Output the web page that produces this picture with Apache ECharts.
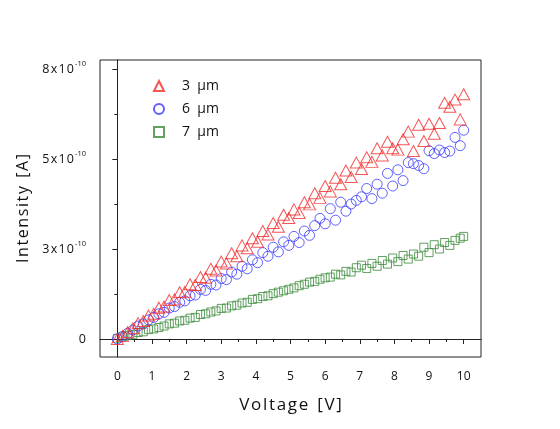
<!DOCTYPE html>
<html>
<head>
<meta charset="utf-8">
<script src="https://cdn.jsdelivr.net/npm/echarts@6/dist/echarts.min.js"></script>
<style>html,body{margin:0;padding:0;background:#fff}#c{width:560px;height:429px}</style>
</head>
<body>
<div id="c"></div>
<script>
// Voltage [V]
const VOLTAGE = [0, 0.15, 0.3, 0.45, 0.6, 0.75, 0.9, 1.05, 1.2, 1.35, 1.5, 1.65, 1.8, 1.95, 2.1, 2.25, 2.4, 2.55, 2.7, 2.85,
  3.0, 3.15, 3.3, 3.45, 3.6, 3.75, 3.9, 4.05, 4.2, 4.35, 4.5, 4.65, 4.8, 4.95, 5.1, 5.25, 5.4, 5.55, 5.7, 5.85,
  6.0, 6.15, 6.3, 6.45, 6.6, 6.75, 6.9, 7.05, 7.2, 7.35, 7.5, 7.65, 7.8, 7.95, 8.1, 8.25, 8.4, 8.55, 8.7, 8.85,
  9.0, 9.15, 9.3, 9.45, 9.6, 9.75, 9.9, 10.0];
// Intensity in units of 1e-10 A
const I_3UM = [0.00, 0.08, 0.19, 0.30, 0.44, 0.50, 0.65, 0.70, 0.87, 0.90, 1.08, 1.10, 1.30, 1.31, 1.52, 1.50, 1.72, 1.70, 1.95, 1.90,
  2.15, 2.10, 2.38, 2.30, 2.60, 2.52, 2.80, 2.70, 3.00, 2.90, 3.22, 3.12, 3.45, 3.36, 3.60, 3.50, 3.80, 3.74, 4.05, 3.92,
  4.25, 4.10, 4.48, 4.30, 4.68, 4.50, 4.90, 4.72, 5.05, 4.92, 5.30, 5.10, 5.48, 5.30, 5.26, 5.55, 5.76, 5.22, 5.95, 5.50,
  5.98, 5.70, 6.00, 6.56, 6.45, 6.65, 6.10, 6.80];
const I_6UM = [0.00, 0.07, 0.16, 0.25, 0.36, 0.42, 0.53, 0.60, 0.70, 0.74, 0.86, 0.90, 1.02, 1.06, 1.20, 1.22, 1.38, 1.35, 1.52, 1.50,
  1.68, 1.65, 1.86, 1.80, 2.02, 1.95, 2.20, 2.12, 2.40, 2.30, 2.55, 2.42, 2.70, 2.60, 2.85, 2.68, 3.00, 2.88, 3.15, 3.35,
  3.20, 3.62, 3.30, 3.80, 3.55, 3.75, 3.85, 3.95, 4.18, 3.90, 4.30, 4.05, 4.60, 4.25, 4.70, 4.40, 4.90, 4.87, 4.82, 4.73,
  5.23, 5.15, 5.25, 5.18, 5.22, 5.60, 5.37, 5.80];
const I_7UM = [0.02, 0.06, 0.10, 0.12, 0.18, 0.20, 0.26, 0.28, 0.32, 0.36, 0.42, 0.44, 0.50, 0.52, 0.58, 0.60, 0.68, 0.70, 0.75, 0.78,
  0.85, 0.86, 0.92, 0.94, 1.00, 1.02, 1.10, 1.12, 1.18, 1.20, 1.26, 1.30, 1.34, 1.38, 1.42, 1.48, 1.52, 1.58, 1.60, 1.66,
  1.70, 1.72, 1.80, 1.78, 1.88, 1.86, 1.98, 2.05, 1.96, 2.10, 2.02, 2.18, 2.08, 2.25, 2.15, 2.32, 2.22, 2.36, 2.30, 2.55,
  2.40, 2.62, 2.50, 2.68, 2.60, 2.74, 2.80, 2.85];
const SERIES_NAMES = ['3  \u03bcm', '6  \u03bcm', '7  \u03bcm'];

const X_TICKS = [0, 1, 2, 3, 4, 5, 6, 7, 8, 9, 10];
const X_MINOR = [0.5, 1.5, 2.5, 3.5, 4.5, 5.5, 6.5, 7.5, 8.5, 9.5];
const Y_TICKS = [0, 2.5, 5, 7.5];
const Y_TICK_LABELS = ['0', '3', '5', '8'];
const Y_MINOR = [1.25, 3.75, 6.25];
const Y_EXP = '-10';

const pairs = (xs, ys) => xs.map((x, i) => [x, ys[i]]);
const spaced = (s) => s.split('').join('\u200A');
const AX = '#222';
const FONT = '"Open Sans", "Liberation Sans", sans-serif';

const chart = echarts.init(document.getElementById('c'), null, {renderer: 'canvas'});
chart.setOption({
  animation: false,
  backgroundColor: '#fff',
  grid: {left: 100, right: 79, top: 60, bottom: 72, show: true, borderColor: AX, borderWidth: 1, backgroundColor: 'transparent'},
  legend: {
    orient: 'vertical', left: 148, top: 74, itemWidth: 10, itemHeight: 10, itemGap: 9,
    data: SERIES_NAMES,
    textStyle: {fontFamily: FONT, fontSize: 14, color: '#111', padding: [0, 0, 0, 13]}
  },
  xAxis: [
    {type: 'value', min: -0.5, max: 10.5, position: 'bottom',
     name: spaced('Voltage') + '  ' + spaced('[V]'), nameLocation: 'middle', nameGap: 40,
     nameTextStyle: {fontFamily: FONT, fontSize: 17, color: '#111'},
     axisLine: {show: true, lineStyle: {color: AX, width: 1}},
     axisTick: {show: true, inside: false, length: 5, customValues: X_TICKS, lineStyle: {color: AX}},
     axisLabel: {customValues: X_TICKS, margin: 14, fontFamily: FONT, fontSize: 12, color: '#111'},
     splitLine: {show: false}},
    {type: 'value', min: -0.5, max: 10.5, position: 'bottom',
     axisLine: {show: false},
     axisTick: {show: true, inside: false, length: 3, customValues: X_MINOR, lineStyle: {color: AX}},
     axisLabel: {show: false}, splitLine: {show: false}}
  ],
  yAxis: [
    {type: 'value', min: -0.5, max: 7.75, position: 'left',
     name: spaced('Intensity') + '  ' + spaced('[A]'), nameLocation: 'middle', nameGap: 58, nameRotate: 90,
     nameTextStyle: {fontFamily: FONT, fontSize: 16, color: '#111'},
     axisLine: {show: true, lineStyle: {color: AX, width: 1}},
     axisTick: {show: true, inside: false, length: 5, customValues: Y_TICKS, lineStyle: {color: AX}},
     axisLabel: {customValues: Y_TICKS, margin: 14, color: '#111',
       formatter: function (v) {
         const i = Y_TICKS.indexOf(v);
         const t = i >= 0 ? Y_TICK_LABELS[i] : String(v);
         return v === 0 ? '{b|' + t + '}' : '{b|' + t + '\u200Ax\u200A1\u200A0}{s|' + Y_EXP + '}';
       },
       rich: {
         b: {fontFamily: FONT, fontSize: 12.5, color: '#111'},
         s: {fontFamily: FONT, fontSize: 7.5, color: '#111', padding: [0, 0, 10, 1]}
       }},
     splitLine: {show: false}},
    {type: 'value', min: -0.5, max: 7.75, position: 'left',
     axisLine: {show: false},
     axisTick: {show: true, inside: false, length: 3, customValues: Y_MINOR, lineStyle: {color: AX}},
     axisLabel: {show: false}, splitLine: {show: false}}
  ],
  series: [
    {name: SERIES_NAMES[0], type: 'scatter', symbol: 'triangle', symbolSize: [12, 11],
     itemStyle: {color: 'rgba(255,255,255,0)', borderColor: '#f22a2a', borderWidth: 1},
     data: pairs(VOLTAGE, I_3UM), z: 3},
    {name: SERIES_NAMES[1], type: 'scatter', symbol: 'circle', symbolSize: 10,
     itemStyle: {color: 'rgba(255,255,255,0)', borderColor: '#3a3aff', borderWidth: 1},
     data: pairs(VOLTAGE, I_6UM), z: 2},
    {name: SERIES_NAMES[2], type: 'scatter', symbol: 'rect', symbolSize: 8,
     itemStyle: {color: 'rgba(255,255,255,0)', borderColor: '#3a8a3a', borderWidth: 1},
     data: pairs(VOLTAGE, I_7UM), z: 1}
  ]
});
</script>
</body>
</html>
